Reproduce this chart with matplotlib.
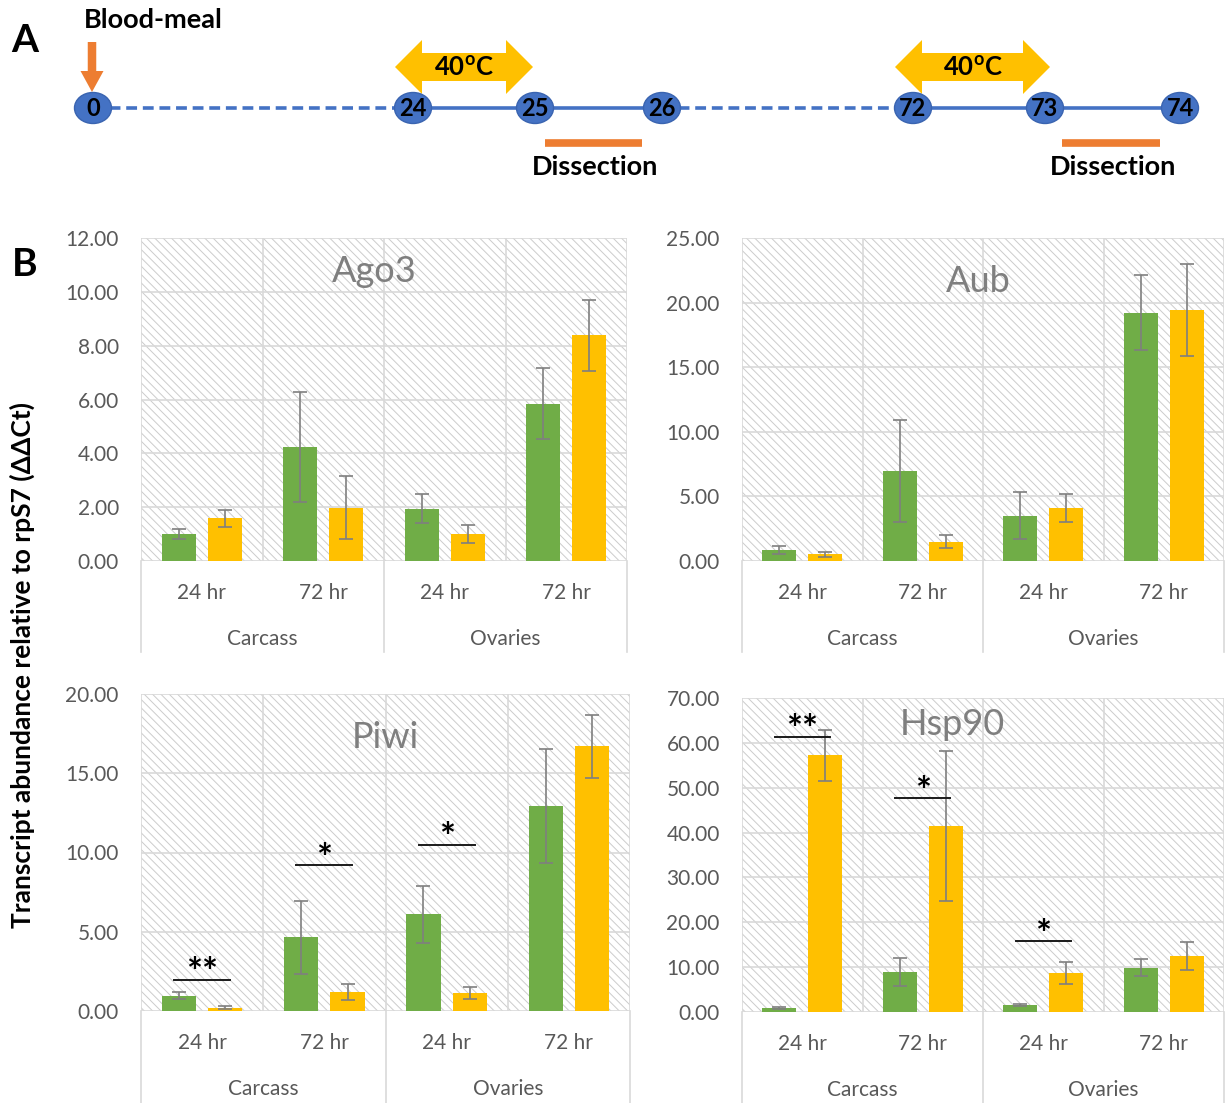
import numpy as np
import matplotlib.pyplot as plt
from matplotlib import transforms
from matplotlib.patches import Ellipse, Polygon, Rectangle, FancyArrow

plt.rcParams['font.family'] = ['Lato', 'DejaVu Sans']
plt.rcParams['mathtext.fontset'] = 'custom'
plt.rcParams['mathtext.rm'] = 'Lato'
plt.rcParams['mathtext.bf'] = 'Lato:bold'
plt.rcParams['hatch.linewidth'] = 0.7

W, H = 1225, 1103

# ---- panel A: experiment timeline (hours after blood-meal)
hours = [0, 24, 25, 26, 72, 73, 74]
heat_windows = [(24, 25), (72, 73)]
dissect_windows = [(25, 26), (73, 74)]
heat_label = r"$\mathbf{40^{o}C}$"

# ---- panel B: transcript abundance, control (green) vs 40C (yellow)
tissues = ["Carcass", "Ovaries"]
times = ["24 hr", "72 hr"]

ago3_ctrl = [1.00, 4.25, 1.95, 5.85]
ago3_ctrl_err = [0.18, 2.04, 0.55, 1.32]
ago3_heat = [1.58, 1.98, 1.00, 8.38]
ago3_heat_err = [0.33, 1.17, 0.33, 1.32]

aub_ctrl = [0.88, 7.00, 3.51, 19.21]
aub_ctrl_err = [0.30, 3.95, 1.83, 2.90]
aub_heat = [0.52, 1.50, 4.10, 19.45]
aub_heat_err = [0.20, 0.50, 1.05, 3.55]

piwi_ctrl = [0.97, 4.64, 6.10, 12.93]
piwi_ctrl_err = [0.20, 2.30, 1.80, 3.60]
piwi_heat = [0.22, 1.22, 1.14, 16.69]
piwi_heat_err = [0.10, 0.50, 0.38, 2.00]

hsp90_ctrl = [0.90, 8.90, 1.50, 9.90]
hsp90_ctrl_err = [0.20, 3.20, 0.25, 1.85]
hsp90_heat = [57.2, 41.5, 8.70, 12.40]
hsp90_heat_err = [5.60, 16.70, 2.45, 3.10]

# significance: (category index, bracket height, stars)
piwi_sig = [(0, 1.96, "**"), (1, 9.18, "*"), (2, 10.5, "*")]
hsp90_sig = [(0, 61.4, "**"), (1, 47.65, "*"), (2, 15.8, "*")]

GREEN = '#70AD47'
YELLOW = '#FFC000'
BLUE = '#4472C4'
ORANGE = '#ED7D31'
GRID = '#d9d9d9'
TXT = '#595959'

fig = plt.figure(figsize=(W / 100, H / 100), dpi=100)


def px_box(x0, y0, x1, y1):
    return [x0 / W, 1 - y1 / H, (x1 - x0) / W, (y1 - y0) / H]


# ---------------- panel A ----------------
axa = fig.add_axes(px_box(0, 0, W, 190))
axa.set_xlim(0, W)
axa.set_ylim(190, 0)
axa.axis('off')

node_x = [93, 413, 535, 662, 913, 1045, 1180]
line_y = 108
xpos = dict(zip(hours, node_x))

# dashed waiting periods, solid around treatment
dash = (0, (3.0, 1.6))
axa.plot([xpos[0], xpos[24]], [line_y, line_y], color=BLUE, lw=2.6, ls=dash, zorder=1)
axa.plot([xpos[26], xpos[72]], [line_y, line_y], color=BLUE, lw=2.6, ls=dash, zorder=1)
axa.plot([xpos[24], xpos[26]], [line_y, line_y], color=BLUE, lw=2.6, zorder=1)
axa.plot([xpos[72], xpos[74]], [line_y, line_y], color=BLUE, lw=2.6, zorder=1)

for h in hours:
    axa.add_patch(Ellipse((xpos[h], line_y), 37, 31, facecolor=BLUE,
                          edgecolor='#3a64b0', lw=1, zorder=2))
    axa.text(xpos[h], line_y + 1, str(h), ha='center', va='center',
             fontsize=17, fontweight='bold', color='black', zorder=3)

# blood-meal arrow
axa.add_patch(FancyArrow(92, 42, 0, 50, width=8.5, head_width=23,
                         head_length=21, length_includes_head=True,
                         color=ORANGE, lw=0))
axa.text(84, 20, "Blood-meal", ha='left', va='center', fontsize=19.5,
         fontweight='bold')

# heat treatment double arrows
for (h0, h1), dx in zip(heat_windows, [(-18, -2), (-18, 5)]):
    x0, x1 = xpos[h0] + dx[0], xpos[h1] + dx[1]
    yc, hh, bh, hl = 67, 27, 14, 27
    pts = [(x0, yc), (x0 + hl, yc - hh), (x0 + hl, yc - bh), (x1 - hl, yc - bh),
           (x1 - hl, yc - hh), (x1, yc), (x1 - hl, yc + hh), (x1 - hl, yc + bh),
           (x0 + hl, yc + bh), (x0 + hl, yc + hh)]
    axa.add_patch(Polygon(pts, closed=True, facecolor=YELLOW, lw=0))
    axa.text((x0 + x1) / 2, yc + 1, heat_label, ha='center', va='center',
             fontsize=18.5)

# dissection bars
for (h0, h1), dx in zip(dissect_windows, [(10, -20), (17, -20)]):
    x0, x1 = xpos[h0] + dx[0], xpos[h1] + dx[1]
    axa.plot([x0, x1], [143, 143], color=ORANGE, lw=5.5, solid_capstyle='butt')
    axa.text((x0 + x1) / 2 + 2, 167, "Dissection", ha='center', va='center',
             fontsize=19.5, fontweight='bold')

fig.text(25 / W, 1 - 40 / H, "A", ha='center', va='center', fontsize=28,
         fontweight='bold')
fig.text(25 / W, 1 - 265 / H, "B", ha='center', va='center', fontsize=28,
         fontweight='bold')


# ---------------- panel B ----------------
def draw_panel(box, band_px, title, title_xy, ctrl, ctrl_err, heat, heat_err,
               ymax, ystep, sig=()):
    ax = fig.add_axes(px_box(*box))
    h_px = box[3] - box[1]
    band = band_px / h_px
    x = np.arange(len(ctrl))
    off, width = 0.19, 0.28

    ax.set_xlim(-0.5, 3.5)
    ax.set_ylim(0, ymax)
    for s in ax.spines.values():
        s.set_visible(False)

    ax.add_patch(Rectangle((0, 0), 1, 1, transform=ax.transAxes,
                           facecolor='white', edgecolor='#cccccc',
                           hatch='\\\\\\\\', lw=0, zorder=0))
    yt = np.arange(0, ymax + ystep / 2, ystep)
    for v in yt:
        ax.axhline(v, color=GRID, lw=1.2, zorder=1)
    for v in np.arange(-0.5, 4, 1):
        ax.axvline(v, color=GRID, lw=1.2, zorder=1)

    # two-level category axis dividers
    tr = transforms.blended_transform_factory(ax.transData, ax.transAxes)
    for v in [-0.5, 1.5, 3.5]:
        ax.plot([v, v], [0, -band], transform=tr, clip_on=False, color=GRID,
                lw=1.2)
    for i, t in enumerate(tissues):
        ax.text(2 * i + 0.5, -78 / h_px, t, transform=tr, ha='center',
                va='center', fontsize=15, color=TXT)

    ax.bar(x - off, ctrl, width, color=GREEN, zorder=2)
    ax.bar(x + off, heat, width, color=YELLOW, zorder=2)
    ax.errorbar(x - off, ctrl, yerr=ctrl_err, fmt='none', ecolor='#7f7f7f',
                elinewidth=1.2, capsize=5, capthick=1.2, zorder=3)
    ax.errorbar(x + off, heat, yerr=heat_err, fmt='none', ecolor='#7f7f7f',
                elinewidth=1.2, capsize=5, capthick=1.2, zorder=3)

    for c, y, stars in sig:
        ax.plot([c - 0.23, c + 0.23], [y, y], color='#1a1a1a', lw=1.4,
                zorder=4)
        ax.annotate(stars, (c, y), xytext=(0, -4), textcoords='offset points',
                    ha='center', va='baseline', fontsize=27,
                    fontweight='bold', zorder=4)

    ax.set_xticks(x)
    ax.set_xticklabels(times * 2)
    ax.set_yticks(yt)
    ax.set_yticklabels([f"{v:.2f}" for v in yt])
    ax.tick_params(axis='x', length=0, pad=16, labelsize=15, labelcolor=TXT)
    ax.tick_params(axis='y', length=0, pad=16, labelsize=15, labelcolor=TXT)

    ax.text(title_xy[0], title_xy[1], title, transform=ax.transAxes,
            ha='center', va='center', fontsize=26, color='#7f7f7f', zorder=5)
    return ax


draw_panel((141, 238, 627, 561), 91, "Ago3", (0.48, 0.895),
           ago3_ctrl, ago3_ctrl_err, ago3_heat, ago3_heat_err, 12, 2)
draw_panel((742, 238, 1224, 561), 91, "Aub", (0.49, 0.864),
           aub_ctrl, aub_ctrl_err, aub_heat, aub_heat_err, 25, 5)
draw_panel((141, 694, 630, 1011), 92, "Piwi", (0.5, 0.864),
           piwi_ctrl, piwi_ctrl_err, piwi_heat, piwi_heat_err, 20, 5, piwi_sig)
draw_panel((742, 698, 1224, 1012), 91, "Hsp90", (0.436, 0.917),
           hsp90_ctrl, hsp90_ctrl_err, hsp90_heat, hsp90_heat_err, 70, 10,
           hsp90_sig)

fig.text(22 / W, 1 - 665 / H, "Transcript abundance relative to rpS7 (ΔΔCt)",
         rotation=90, ha='center', va='center', fontsize=19, fontweight='bold')

fig.savefig("out.png", dpi=100)
